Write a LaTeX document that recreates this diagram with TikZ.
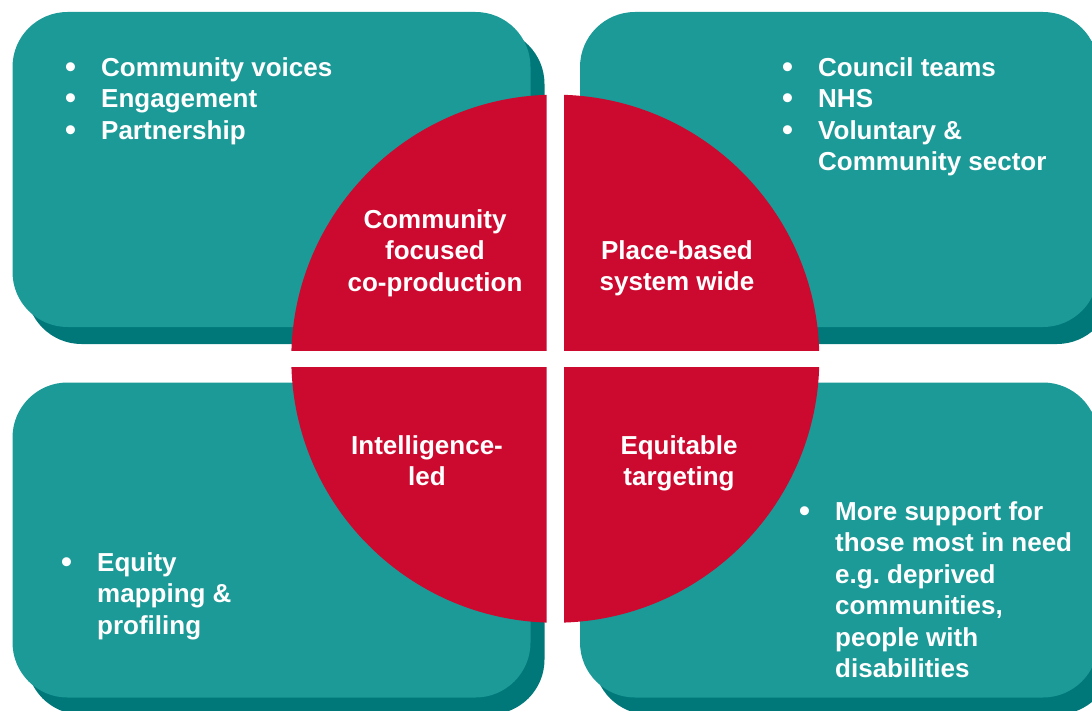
\documentclass[tikz,border=0pt]{standalone}
\usepackage{graphicx}
\usepackage{fontspec}
\setmainfont{Liberation Sans}

\definecolor{TealBox}{RGB}{27,154,151}
\definecolor{TealShadow}{RGB}{0,120,122}
\definecolor{QuadRed}{RGB}{204,9,47}

\newcommand{\itm}{\makebox[36pt][l]{\raisebox{-1pt}{\scalebox{1.2}{•}}}}
\newcommand{\noitm}{\makebox[36pt][l]{}}

\begin{document}
\begin{tikzpicture}[x=1pt, y=-1pt,
    box/.style={fill=TealBox, rounded corners=55pt, minimum width=518pt, minimum height=315pt, inner sep=0pt},
    boxshadow/.style={box, fill=TealShadow},
    list/.style={anchor=north west, inner sep=0pt, align=left, text=white, font=\fontsize{26}{31.5}\selectfont\bfseries},
    label/.style={anchor=north, inner sep=0pt, align=center, text=white, font=\fontsize{26}{31.5}\selectfont\bfseries}
  ]
    \useasboundingbox (0,0) rectangle (1092,711);

    % shadows
    \node[boxshadow] (tlShadow) at (285.5,186.5) {};
    \node[boxshadow] (trShadow) at (853,186.5) {};
    \node[boxshadow] (blShadow) at (285.5,557) {};
    \node[boxshadow] (brShadow) at (853,557) {};

    % boxes
    \node[box] (tlBox) at (271.5,169.5) {};
    \node[box] (trBox) at (839,169.5) {};
    \node[box] (blBox) at (271.5,540) {};
    \node[box] (brBox) at (839,540) {};

    % circle in four quarters
    \coordinate (c) at (555.3,358.7);
    \foreach \sx/\sy in {-1/-1,1/-1,-1/1,1/1} {
      \begin{scope}
        \clip ([shift={(\sx*8.7,\sy*8.7)}]c) rectangle ([shift={(\sx*290,\sy*290)}]c);
        \fill[QuadRed] (c) circle[radius=264];
      \end{scope}
    }

    % lists
    \node[list] (tlList) at (65,57) {\itm Community voices\\ \itm Engagement\\ \itm Partnership};
    \node[list] (trList) at (782,57) {\itm Council teams\\ \itm NHS\\ \itm Voluntary \&\\ \noitm Community sector};
    \node[list] (blList) at (61,552) {\itm Equity\\ \noitm mapping \&\\ \noitm profiling};
    \node[list] (brList) at (799,501) {\itm More support for\\ \noitm those most in need\\ \noitm e.g.\ deprived\\ \noitm communities,\\ \noitm people with\\ \noitm disabilities};

    % quarter labels
    \node[label] (tlLabel) at (435,209) {Community\\ focused\\ co-production};
    \node[label] (trLabel) at (677,240) {Place-based\\ system wide};
    \node[label] (blLabel) at (427,435) {Intelligence-\\ led};
    \node[label] (brLabel) at (679,435) {Equitable\\ targeting};
  \end{tikzpicture}
\end{document}
